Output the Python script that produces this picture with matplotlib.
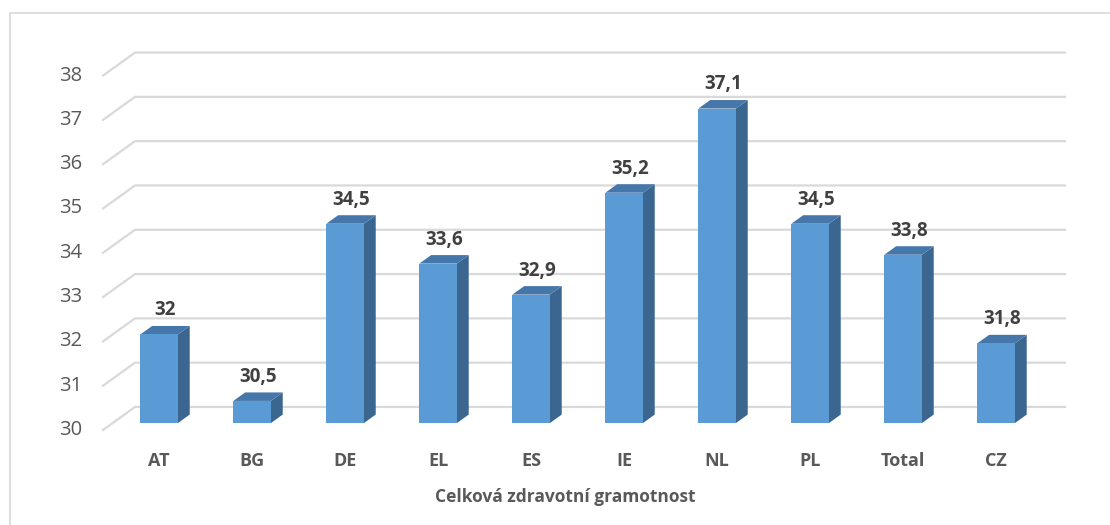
import numpy as np
import matplotlib.pyplot as plt
from matplotlib.patches import Polygon, Rectangle
from matplotlib.lines import Line2D

plt.rcParams['font.family'] = ['Open Sans', 'DejaVu Sans']

categories = ['AT', 'BG', 'DE', 'EL', 'ES', 'IE', 'NL', 'PL', 'Total', 'CZ']
values = [32, 30.5, 34.5, 33.6, 32.9, 35.2, 37.1, 34.5, 33.8, 31.8]
value_labels = ['32', '30,5', '34,5', '33,6', '32,9', '35,2', '37,1', '34,5', '33,8', '31,8']
y_ticks = [30, 31, 32, 33, 34, 35, 36, 37, 38]
axis_title = 'Celková zdravotní gramotnost'

# fake 3d: depth offset of the floor/wall in data units
DX, DY = 0.344, 0.52
front = 0.3       # bar front face depth fraction
depth = 0.37      # bar depth fraction
w = 0.404         # bar width

c_front = '#5B9BD5'
c_top = '#4677AA'
c_side = '#3A6690'
grid_c = '#D9D9D9'

W, H = 1110, 525
fig = plt.figure(figsize=(W / 100, H / 100), dpi=100)
ax = fig.add_axes([103 / W, (H - 430) / H, (1065 - 103) / W, (430 - 51) / H])
ax.set_xlim(0, 10 + DX)
ax.set_ylim(30, 30 + 379 / 44.3)
ax.axis('off')

# gridlines: front diagonal + back wall
for v in y_ticks:
    ax.plot([0, DX, 10 + DX], [v, v + DY, v + DY], color=grid_c, lw=1.6,
            solid_joinstyle='miter', zorder=1, clip_on=False)
    ax.text(-0.22, v, str(v), ha='right', va='center', fontsize=14.5,
            color='#595959')

base = 30 + front * DY
for i, (cat, v, lab) in enumerate(zip(categories, values, value_labels)):
    x0 = i + 0.5 - w / 2 + front * DX
    top = base + (v - 30)
    ddx, ddy = depth * DX, depth * DY
    ax.add_patch(Polygon([(x0 + w, base), (x0 + w + ddx, base + ddy),
                          (x0 + w + ddx, top + ddy), (x0 + w, top)],
                         closed=True, facecolor=c_side, edgecolor='none', zorder=2))
    ax.add_patch(Polygon([(x0, top), (x0 + w, top), (x0 + w + ddx, top + ddy),
                          (x0 + ddx, top + ddy)],
                         closed=True, facecolor=c_top, edgecolor='none', zorder=2))
    ax.add_patch(Rectangle((x0, base), w, v - 30, facecolor=c_front,
                           edgecolor='none', zorder=3))
    ax.annotate(lab, (x0 + w / 2 + ddx / 2, top + ddy), xytext=(0, 4),
                textcoords='offset points', ha='center', va='bottom',
                fontsize=13.5, fontweight='bold', color='#404040', zorder=4)
    ax.annotate(cat, (x0 + w / 2, 30), xytext=(0, -22),
                textcoords='offset points', ha='center', va='center',
                fontsize=13, fontweight='bold', color='#595959',
                annotation_clip=False)

fig.text(565 / W, 1 - 497 / H, axis_title, ha='center', va='center',
         fontsize=12.5, fontweight='bold', color='#595959')

# chart frame (only top and left visible in the crop)
fig.add_artist(Line2D([9.5 / W, 9.5 / W, 1], [0, 1 - 13 / H, 1 - 13 / H],
                      transform=fig.transFigure, color='#D9D9D9', lw=1.2))

fig.savefig('out.png', dpi=100, facecolor='white')
